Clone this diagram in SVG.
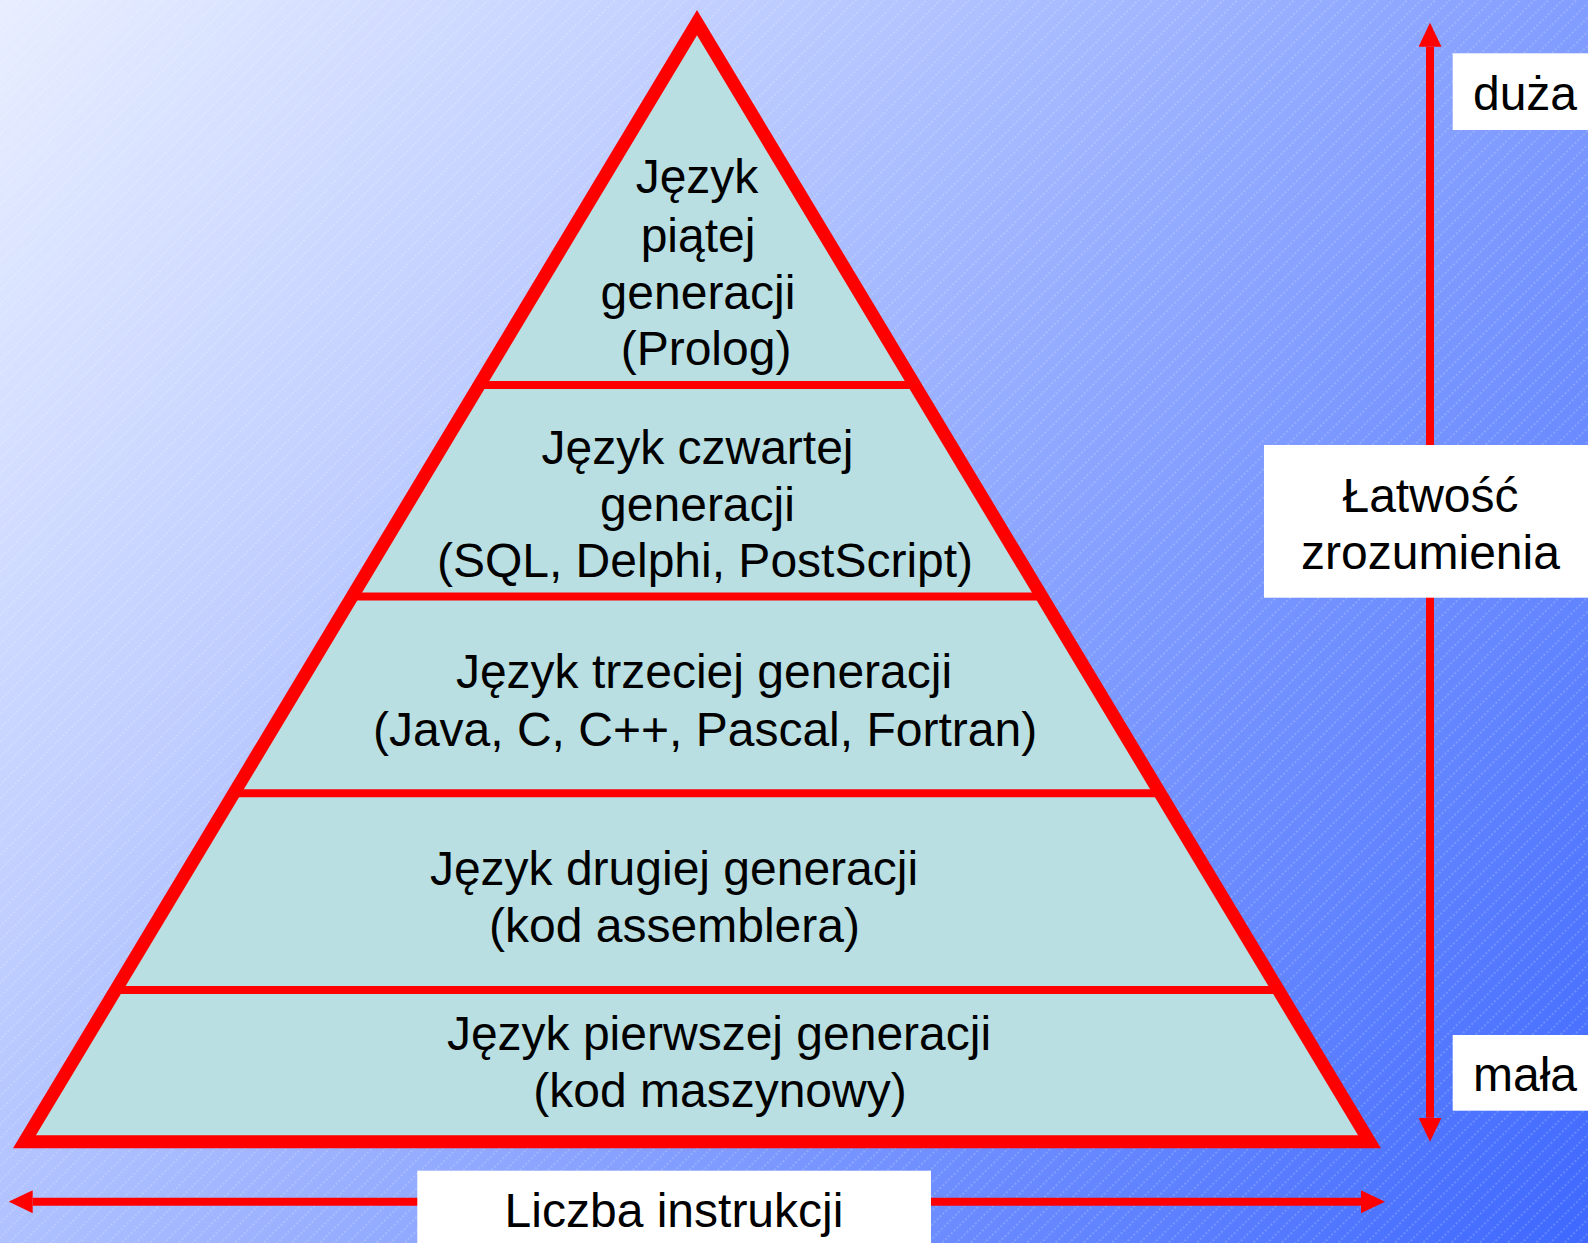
<svg xmlns="http://www.w3.org/2000/svg" width="1588" height="1243" viewBox="0 0 1588 1243">
  <defs>
    <linearGradient id="bg" gradientUnits="userSpaceOnUse" x1="0" y1="0" x2="1588" y2="1243">
      <stop offset="0" stop-color="#e8eeff"/>
      <stop offset="0.3" stop-color="#becdff"/>
      <stop offset="0.6" stop-color="#85a0ff"/>
      <stop offset="1" stop-color="#3e68ff"/>
    </linearGradient>
    <pattern id="hatch" patternUnits="userSpaceOnUse" width="40" height="10" patternTransform="rotate(-45)">
      <line x1="0" y1="5" x2="40" y2="5" stroke="#ffffff" stroke-opacity="0.35" stroke-width="1" stroke-dasharray="2 2"/>
    </pattern>
    <marker id="head" viewBox="0 0 24 23" refX="0" refY="11.5" markerUnits="userSpaceOnUse" markerWidth="24" markerHeight="23" orient="auto-start-reverse">
      <path d="M0,0 L24,11.5 L0,23 Z" fill="#ff0000"/>
    </marker>
  </defs>
  <style>
    text { font-family: "Liberation Sans", Arial, sans-serif; font-size: 48px; fill: #000; text-anchor: middle; }
    .div { stroke: #ff0000; stroke-width: 8; }
    .box { fill: #ffffff; }
    .conn { stroke: #ff0000; stroke-width: 8; fill: none; }
  </style>

  <rect x="0" y="0" width="1588" height="1243" fill="url(#bg)"/>
  <rect x="0" y="0" width="1588" height="1243" fill="url(#hatch)"/>

  <g id="pyramid-fill">
    <polygon points="697,22.6 24.5,1141.7 1369.5,1141.7" fill="#b9dfe2"/>
  </g>

  <g id="tier5">
    <text x="697" y="193">Język</text>
    <text x="698" y="251.5">piątej</text>
    <text x="698" y="308.5">generacji</text>
    <text x="706" y="365">(Prolog)</text>
  </g>
  <g id="tier4">
    <line class="div" x1="479.2" y1="385" x2="914.8" y2="385"/>
    <text x="697.5" y="463.5">Język czwartej</text>
    <text x="697.5" y="521">generacji</text>
    <text x="705" y="577">(SQL, Delphi, PostScript)</text>
  </g>
  <g id="tier3">
    <line class="div" x1="352.1" y1="596.5" x2="1041.9" y2="596.5"/>
    <text x="704" y="688">Język trzeciej generacji</text>
    <text x="705" y="746">(Java, C, C++, Pascal, Fortran)</text>
  </g>
  <g id="tier2">
    <line class="div" x1="233.9" y1="793.3" x2="1160.1" y2="793.3"/>
    <text x="674" y="885">Język drugiej generacji</text>
    <text x="674.5" y="941.5">(kod assemblera)</text>
  </g>
  <g id="tier1">
    <line class="div" x1="115.7" y1="990" x2="1278.3" y2="990"/>
    <text x="719" y="1050">Język pierwszej generacji</text>
    <text x="720" y="1106.5">(kod maszynowy)</text>
  </g>

  <g id="pyramid-outline">
    <polygon points="697,22.6 24.5,1141.7 1369.5,1141.7" fill="none" stroke="#ff0000" stroke-width="13" stroke-linejoin="miter" stroke-miterlimit="10"/>
  </g>

  <g id="connectors">
    <line class="conn" x1="1430" y1="46.7" x2="1430" y2="1117.7" marker-start="url(#head)" marker-end="url(#head)"/>
    <line class="conn" x1="32.7" y1="1201.7" x2="1361" y2="1201.7" marker-start="url(#head)" marker-end="url(#head)"/>
  </g>

  <g id="label-duza">
    <rect class="box" x="1452.7" y="53.3" width="140" height="76.7"/>
    <text x="1525" y="110">duża</text>
  </g>
  <g id="label-mala">
    <rect class="box" x="1452.7" y="1035" width="140" height="75.7"/>
    <text x="1525" y="1091">mała</text>
  </g>
  <g id="label-latwosc">
    <rect class="box" x="1264" y="445" width="330" height="152.7"/>
    <text x="1430.5" y="511.5">Łatwość</text>
    <text x="1430.5" y="568.5">zrozumienia</text>
  </g>
  <g id="label-liczba">
    <rect class="box" x="417.3" y="1170.7" width="513.7" height="80"/>
    <text x="674" y="1227">Liczba instrukcji</text>
  </g>
</svg>
